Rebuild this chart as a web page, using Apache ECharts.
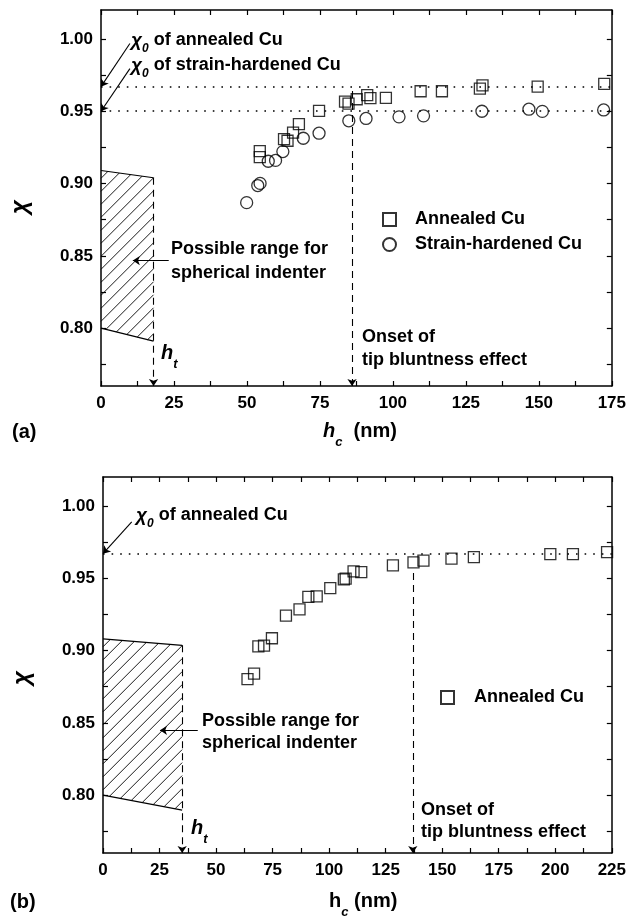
<!DOCTYPE html>
<html>
<head>
<meta charset="utf-8">
<script src="https://cdn.jsdelivr.net/npm/echarts@6/dist/echarts.min.js"></script>
<style>
  html, body { margin: 0; padding: 0; background: #fff; }
  #chart { width: 629px; height: 918px; }
</style>
</head>
<body>
<div id="chart"></div>
<script>
// ---- data ----
// (a) annealed Cu
var annealedA_hc  = [54.4, 54.4, 62.7, 63.9, 65.8, 67.8, 74.7, 83.6, 84.8, 87.6, 91.2, 92.3, 97.6, 109.5, 116.8, 129.8, 130.7, 149.6, 172.4];
var annealedA_chi = [0.9224, 0.9183, 0.9307, 0.9296, 0.9352, 0.9411, 0.9502, 0.9567, 0.9553, 0.9583, 0.9612, 0.9591, 0.9593, 0.9638, 0.9638, 0.9656, 0.9679, 0.967, 0.9689];
// (a) strain-hardened Cu
var hardenedA_hc  = [49.9, 53.7, 54.5, 57.3, 59.8, 62.3, 69.3, 74.7, 84.9, 90.8, 102.1, 110.5, 130.5, 146.6, 151.2, 172.2];
var hardenedA_chi = [0.8868, 0.8986, 0.9001, 0.9154, 0.916, 0.9221, 0.9313, 0.9348, 0.9434, 0.945, 0.9461, 0.9468, 0.95, 0.9514, 0.9499, 0.9509];
// (b) annealed Cu
var annealedB_hc  = [63.9, 66.8, 68.7, 71.2, 74.7, 80.9, 86.9, 90.8, 94.5, 100.5, 106.5, 107.3, 110.8, 114.2, 128.2, 137.3, 141.7, 154.1, 164.0, 197.8, 207.8, 222.9];
var annealedB_chi = [0.8802, 0.8841, 0.9029, 0.9034, 0.9085, 0.9242, 0.9284, 0.9371, 0.9375, 0.9431, 0.9492, 0.9497, 0.9548, 0.9542, 0.9589, 0.961, 0.9622, 0.9636, 0.9646, 0.9667, 0.9667, 0.9681];

var chi0Annealed = 0.967;
var chi0Hardened = 0.950;
var htA = 18, onsetA = 86;
var htB = 35, onsetB = 137;

// hatched "possible range" boxes: top edge and bottom edge
var hatchTopA = [[0, 0.909], [18, 0.904]];
var hatchBotA = [[0, 0.800], [18, 0.791]];
var hatchTopB = [[0, 0.908], [35, 0.9036]];
var hatchBotB = [[0, 0.800], [35, 0.7896]];

// axes
var yMin = 0.76, yMax = 1.02;
var yLabels = [0.80, 0.85, 0.90, 0.95, 1.00];
var yTicks = [0.775, 0.80, 0.825, 0.85, 0.875, 0.90, 0.925, 0.95, 0.975, 1.00];
var xMaxA = 175, xMaxB = 225;
var xLabelsA = [0, 25, 50, 75, 100, 125, 150, 175];
var xTicksA = [0, 12.5, 25, 37.5, 50, 62.5, 75, 87.5, 100, 112.5, 125, 137.5, 150, 162.5, 175];
var xLabelsB = [0, 25, 50, 75, 100, 125, 150, 175, 200, 225];
var xTicksB = [0, 12.5, 25, 37.5, 50, 62.5, 75, 87.5, 100, 112.5, 125, 137.5, 150, 162.5, 175, 187.5, 200, 212.5, 225];

var FONT = '"Liberation Sans", Arial, Helvetica, sans-serif';

function zip(a, b) {
  var out = [];
  for (var i = 0; i < a.length; i++) out.push([a[i], b[i]]);
  return out;
}

function makeX(grid, max, labels, ticks, pos) {
  return {
    type: 'value', gridIndex: grid, min: 0, max: max, position: pos,
    axisLine: { show: true, onZero: false, lineStyle: { color: '#000', width: 1.5 } },
    axisTick: { show: true, inside: true, length: 5, customValues: ticks, lineStyle: { color: '#000', width: 1.2 } },
    axisLabel: { show: pos === 'bottom', customValues: labels, margin: 9, color: '#000',
      fontFamily: FONT, fontWeight: 'bold', fontSize: 17 },
    splitLine: { show: false }
  };
}
function makeY(grid, pos) {
  return {
    type: 'value', gridIndex: grid, min: yMin, max: yMax, position: pos,
    axisLine: { show: true, onZero: false, lineStyle: { color: '#000', width: 1.5 } },
    axisTick: { show: true, inside: true, length: 5, customValues: yTicks, lineStyle: { color: '#000', width: 1.2 } },
    axisLabel: { show: pos === 'left', customValues: yLabels, margin: 8, color: '#000',
      fontFamily: FONT, fontWeight: 'bold', fontSize: 17,
      formatter: function (v) { return v.toFixed(2); } },
    splitLine: { show: false }
  };
}

// diagonal hatch inside a quadrilateral given by its top and bottom edges
function hatchRender(top, bot) {
  return function (params, api) {
    var p0 = api.coord(top[0]), p1 = api.coord(top[1]);
    var q0 = api.coord(bot[0]), q1 = api.coord(bot[1]);
    var x0 = p0[0], x1 = p1[0];
    var st = (p1[1] - p0[1]) / (x1 - x0);
    var sb = (q1[1] - q0[1]) / (x1 - x0);
    var kids = [
      { type: 'line', shape: { x1: p0[0], y1: p0[1], x2: p1[0], y2: p1[1] }, style: { stroke: '#000', lineWidth: 1.2 } },
      { type: 'line', shape: { x1: q0[0], y1: q0[1], x2: q1[0], y2: q1[1] }, style: { stroke: '#000', lineWidth: 1.2 } }
    ];
    var step = 13;
    for (var c = x0 + p0[1] + step * 0.6; c < x1 + q1[1]; c += step) {
      // line: y = c - x
      var xa = (c - p0[1] + st * x0) / (1 + st);
      var xb = (c - q0[1] + sb * x0) / (1 + sb);
      var lo = Math.max(x0, xb), hi = Math.min(x1, xa);
      if (hi - lo > 1) {
        kids.push({ type: 'line', shape: { x1: lo, y1: c - lo, x2: hi, y2: c - hi },
          style: { stroke: '#000', lineWidth: 0.9 } });
      }
    }
    return { type: 'group', children: kids };
  };
}

var arrowEnd = function (from, to, dashed) {
  return [
    { coord: from, symbol: 'none', lineStyle: { type: dashed ? [7, 5] : 'solid', width: 1.1, color: '#000' } },
    { coord: to, symbol: 'arrow', symbolSize: 7 }
  ];
};
var dotted = function (y, max) {
  return [
    { coord: [0, y], symbol: 'none', lineStyle: { type: [1.6, 7], width: 1.6, color: '#000' } },
    { coord: [max, y], symbol: 'none' }
  ];
};

var markBase = { silent: true, animation: false, label: { show: false }, emphasis: { disabled: true } };

var squareStyle = { color: 'rgba(0,0,0,0)', borderColor: '#000', borderWidth: 1.3 };

var txt = { fontFamily: FONT, fontWeight: 'bold', fontSize: 18, fill: '#000' };
function T(left, top, text, extra) {
  var s = Object.assign({}, txt, { text: text }, extra || {});
  return { type: 'text', left: left, top: top, silent: true, style: s };
}
var chiRich = {
  c: { fontFamily: FONT, fontWeight: 'bold', fontStyle: 'italic', fontSize: 19, lineHeight: 22, verticalAlign: 'middle' },
  s: { fontFamily: FONT, fontWeight: 'bold', fontStyle: 'italic', fontSize: 12, lineHeight: 22, verticalAlign: 'bottom', padding: [0, 0, -3, 0] },
  n: { fontFamily: FONT, fontWeight: 'bold', fontSize: 18, lineHeight: 22, verticalAlign: 'middle' }
};
var hRich = {
  h: { fontFamily: FONT, fontWeight: 'bold', fontStyle: 'italic', fontSize: 20, lineHeight: 24, verticalAlign: 'middle' },
  hr: { fontFamily: FONT, fontWeight: 'bold', fontSize: 20, lineHeight: 24, verticalAlign: 'middle' },
  s: { fontFamily: FONT, fontWeight: 'bold', fontStyle: 'italic', fontSize: 13, lineHeight: 24, verticalAlign: 'bottom', padding: [0, 0, -6, 0] },
  n: { fontFamily: FONT, fontWeight: 'bold', fontSize: 20, lineHeight: 24, verticalAlign: 'middle' }
};

var chart = echarts.init(document.getElementById('chart'));
chart.setOption({
  animation: false,
  backgroundColor: '#fff',
  grid: [
    { left: 101, top: 10, width: 513, height: 376 },
    { left: 103, top: 477, width: 511, height: 376 }
  ],
  xAxis: [
    makeX(0, xMaxA, xLabelsA, xTicksA, 'bottom'),
    makeX(0, xMaxA, xLabelsA, xTicksA, 'top'),
    makeX(1, xMaxB, xLabelsB, xTicksB, 'bottom'),
    makeX(1, xMaxB, xLabelsB, xTicksB, 'top')
  ],
  yAxis: [
    makeY(0, 'left'), makeY(0, 'right'),
    makeY(1, 'left'), makeY(1, 'right')
  ],
  legend: [
    { data: ['Annealed Cu', 'Strain-hardened Cu'], orient: 'vertical', left: 377, top: 205,
      itemWidth: 13, itemHeight: 13, itemGap: 6, selectedMode: false,
      textStyle: { fontFamily: FONT, fontWeight: 'bold', fontSize: 18, color: '#000', padding: [0, 0, 0, 14], lineHeight: 19 } },
    { data: ['Annealed Cu'], orient: 'vertical', left: 435, top: 683,
      itemWidth: 13, itemHeight: 13, selectedMode: false,
      textStyle: { fontFamily: FONT, fontWeight: 'bold', fontSize: 18, color: '#000', padding: [0, 0, 0, 15], lineHeight: 19 } }
  ],
  series: [
    {
      name: 'Annealed Cu', type: 'scatter', xAxisIndex: 0, yAxisIndex: 0,
      symbol: 'rect', symbolSize: 11, itemStyle: squareStyle,
      data: zip(annealedA_hc, annealedA_chi),
      markLine: Object.assign({}, markBase, { data: [
        arrowEnd([htA, hatchTopA[1][1]], [htA, yMin], true),
        arrowEnd([onsetA, 0.964], [onsetA, yMin], true),
        arrowEnd([23.2, 0.8467], [10.9, 0.8467], false),
        arrowEnd([9.9, 0.9968], [0, chi0Annealed], false),
        arrowEnd([9.9, 0.9795], [0, chi0Hardened], false)
      ] })
    },
    {
      name: 'Strain-hardened Cu', type: 'scatter', xAxisIndex: 0, yAxisIndex: 0,
      symbol: 'circle', symbolSize: 12, itemStyle: squareStyle,
      data: zip(hardenedA_hc, hardenedA_chi),
      markLine: Object.assign({}, markBase, { data: [
        dotted(chi0Annealed, xMaxA),
        dotted(chi0Hardened, xMaxA)
      ] })
    },
    {
      type: 'custom', xAxisIndex: 0, yAxisIndex: 0, silent: true, clip: false,
      data: [[0, 0.8]], renderItem: hatchRender(hatchTopA, hatchBotA)
    },
    {
      name: 'Annealed Cu', type: 'scatter', xAxisIndex: 2, yAxisIndex: 2,
      symbol: 'rect', symbolSize: 11, itemStyle: squareStyle,
      data: zip(annealedB_hc, annealedB_chi),
      markLine: Object.assign({}, markBase, { data: [
        dotted(chi0Annealed, xMaxB),
        arrowEnd([htB, hatchTopB[1][1]], [htB, yMin], true),
        arrowEnd([onsetB, 0.9537], [onsetB, yMin], true),
        arrowEnd([41.9, 0.8448], [25.2, 0.8448], false),
        arrowEnd([12.7, 0.989], [0, chi0Annealed], false)
      ] })
    },
    {
      type: 'custom', xAxisIndex: 2, yAxisIndex: 2, silent: true, clip: false,
      data: [[0, 0.8]], renderItem: hatchRender(hatchTopB, hatchBotB)
    }
  ],
  graphic: [
    // (a)
    { type: 'text', left: 131, top: 31, silent: true, style: { text: '{c|χ}{s|0}{n| of annealed Cu}', rich: chiRich, fill: '#000' } },
    { type: 'text', left: 131, top: 56, silent: true, style: { text: '{c|χ}{s|0}{n| of strain-hardened Cu}', rich: chiRich, fill: '#000' } },
    T(171, 237, 'Possible range for\nspherical indenter', { lineHeight: 24 }),
    { type: 'text', left: 161, top: 343, silent: true, style: { text: '{h|h}{s|t}', rich: hRich, fill: '#000' } },
    T(362, 326, 'Onset of\ntip bluntness effect', { lineHeight: 23 }),
    T(12, 422, '(a)', { fontSize: 20 }),
    { type: 'text', left: 323, top: 421, silent: true, style: { text: '{h|h}{s|c}{n|  (nm)}', rich: hRich, fill: '#000' } },
    { type: 'text', x: 20, y: 207, rotation: Math.PI / 2, silent: true,
      style: { text: 'χ', fontFamily: FONT, fontWeight: 'bold', fontStyle: 'italic', fontSize: 24, fill: '#000', align: 'center', verticalAlign: 'middle' } },
    // (b)
    { type: 'text', left: 136, top: 506, silent: true, style: { text: '{c|χ}{s|0}{n| of annealed Cu}', rich: chiRich, fill: '#000' } },
    T(202, 710, 'Possible range for\nspherical indenter', { lineHeight: 22 }),
    { type: 'text', left: 191, top: 818, silent: true, style: { text: '{h|h}{s|t}', rich: hRich, fill: '#000' } },
    T(421, 799, 'Onset of\ntip bluntness effect', { lineHeight: 22 }),
    T(10, 892, '(b)', { fontSize: 20 }),
    { type: 'text', left: 329, top: 891, silent: true, style: { text: '{hr|h}{s|c}{n| (nm)}', rich: hRich, fill: '#000' } },
    { type: 'text', x: 22, y: 678, rotation: Math.PI / 2, silent: true,
      style: { text: 'χ', fontFamily: FONT, fontWeight: 'bold', fontStyle: 'italic', fontSize: 24, fill: '#000', align: 'center', verticalAlign: 'middle' } }
  ]
});
</script>
</body>
</html>
